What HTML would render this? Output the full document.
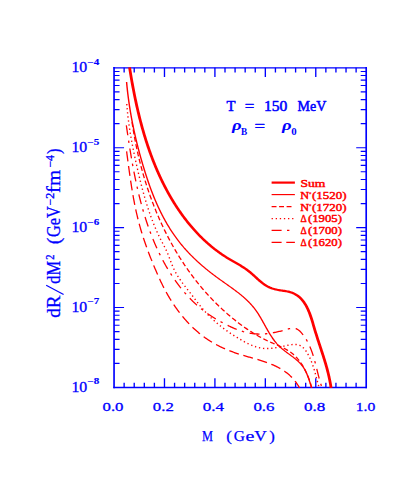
<!DOCTYPE html>
<html><head><meta charset="utf-8"><title>dR/dM2</title>
<style>
html,body{margin:0;padding:0;background:#fff;}
body{width:409px;height:477px;overflow:hidden;font-family:"Liberation Serif",serif;}
svg{display:block;}
</style></head><body>
<svg width="409" height="477" viewBox="0 0 409 477">
<rect width="409" height="477" fill="#ffffff"/>
<defs><clipPath id="pc"><rect x="114.05" y="67.80" width="252.15" height="319.65"/></clipPath></defs>
<g transform="scale(1.0000,1)">
<path d="M114.05,67.80 V387.45 M366.20,67.80 V387.45" fill="none" stroke="#0000ff" stroke-width="1.65" stroke-linecap="square"/>
<path d="M114.05,67.80 H366.20 M114.05,387.45 H366.20" fill="none" stroke="#0000ff" stroke-width="1.35" stroke-linecap="square"/>
<path d="M124.14,387.45 v-4.80 M124.14,67.80 v4.80 M134.22,387.45 v-4.80 M134.22,67.80 v4.80 M144.31,387.45 v-4.80 M144.31,67.80 v4.80 M154.39,387.45 v-4.80 M154.39,67.80 v4.80 M164.48,387.45 v-9.20 M164.48,67.80 v9.20 M174.57,387.45 v-4.80 M174.57,67.80 v4.80 M184.65,387.45 v-4.80 M184.65,67.80 v4.80 M194.74,387.45 v-4.80 M194.74,67.80 v4.80 M204.82,387.45 v-4.80 M204.82,67.80 v4.80 M214.91,387.45 v-9.20 M214.91,67.80 v9.20 M225.00,387.45 v-4.80 M225.00,67.80 v4.80 M235.08,387.45 v-4.80 M235.08,67.80 v4.80 M245.17,387.45 v-4.80 M245.17,67.80 v4.80 M255.25,387.45 v-4.80 M255.25,67.80 v4.80 M265.34,387.45 v-9.20 M265.34,67.80 v9.20 M275.43,387.45 v-4.80 M275.43,67.80 v4.80 M285.51,387.45 v-4.80 M285.51,67.80 v4.80 M295.60,387.45 v-4.80 M295.60,67.80 v4.80 M305.68,387.45 v-4.80 M305.68,67.80 v4.80 M315.77,387.45 v-9.20 M315.77,67.80 v9.20 M325.86,387.45 v-4.80 M325.86,67.80 v4.80 M335.94,387.45 v-4.80 M335.94,67.80 v4.80 M346.03,387.45 v-4.80 M346.03,67.80 v4.80 M356.11,387.45 v-4.80 M356.11,67.80 v4.80" fill="none" stroke="#0000ff" stroke-width="1.35"/>
<path d="M114.05,363.39 h5.50 M366.20,363.39 h-5.50 M114.05,349.32 h5.50 M366.20,349.32 h-5.50 M114.05,339.34 h5.50 M366.20,339.34 h-5.50 M114.05,331.59 h5.50 M366.20,331.59 h-5.50 M114.05,325.27 h5.50 M366.20,325.27 h-5.50 M114.05,319.92 h5.50 M366.20,319.92 h-5.50 M114.05,315.28 h5.50 M366.20,315.28 h-5.50 M114.05,311.19 h5.50 M366.20,311.19 h-5.50 M114.05,307.54 h10.00 M366.20,307.54 h-10.00 M114.05,283.48 h5.50 M366.20,283.48 h-5.50 M114.05,269.41 h5.50 M366.20,269.41 h-5.50 M114.05,259.43 h5.50 M366.20,259.43 h-5.50 M114.05,251.68 h5.50 M366.20,251.68 h-5.50 M114.05,245.35 h5.50 M366.20,245.35 h-5.50 M114.05,240.00 h5.50 M366.20,240.00 h-5.50 M114.05,235.37 h5.50 M366.20,235.37 h-5.50 M114.05,231.28 h5.50 M366.20,231.28 h-5.50 M114.05,227.62 h10.00 M366.20,227.62 h-10.00 M114.05,203.57 h5.50 M366.20,203.57 h-5.50 M114.05,189.50 h5.50 M366.20,189.50 h-5.50 M114.05,179.51 h5.50 M366.20,179.51 h-5.50 M114.05,171.77 h5.50 M366.20,171.77 h-5.50 M114.05,165.44 h5.50 M366.20,165.44 h-5.50 M114.05,160.09 h5.50 M366.20,160.09 h-5.50 M114.05,155.46 h5.50 M366.20,155.46 h-5.50 M114.05,151.37 h5.50 M366.20,151.37 h-5.50 M114.05,147.71 h10.00 M366.20,147.71 h-10.00 M114.05,123.66 h5.50 M366.20,123.66 h-5.50 M114.05,109.58 h5.50 M366.20,109.58 h-5.50 M114.05,99.60 h5.50 M366.20,99.60 h-5.50 M114.05,91.86 h5.50 M366.20,91.86 h-5.50 M114.05,85.53 h5.50 M366.20,85.53 h-5.50 M114.05,80.18 h5.50 M366.20,80.18 h-5.50 M114.05,75.54 h5.50 M366.20,75.54 h-5.50 M114.05,71.46 h5.50 M366.20,71.46 h-5.50" fill="none" stroke="#0000ff" stroke-width="1.15"/>
<path d="M126.61,151.41 L126.71,152.19 L126.82,152.97 L126.92,153.76 L127.03,154.54 L127.13,155.33 L127.24,156.11 L127.34,156.90 L127.44,157.68 L127.55,158.47 L127.65,159.25 L127.76,160.04 L127.86,160.82 L127.97,161.61 L128.07,162.40 L128.18,163.18 L128.28,163.97 L128.39,164.76 L128.49,165.54 L128.60,166.33 L128.71,167.12 L128.81,167.91 L128.92,168.69 L129.03,169.48 L129.14,170.27 L129.25,171.06 L129.36,171.84 L129.47,172.63 L129.58,173.42 L129.69,174.21 L129.80,174.99 L129.91,175.78 L130.03,176.57 L130.14,177.36 L130.25,178.14 L130.37,178.93 L130.49,179.72 L130.60,180.51 L130.72,181.29 L130.84,182.08 L130.96,182.87 L131.08,183.65 L131.20,184.44 L131.32,185.23 L131.45,186.01 L131.57,186.80 L131.69,187.59 L131.82,188.37 L131.95,189.16 L132.08,189.94 L132.21,190.73 L132.34,191.51 L132.47,192.30 L132.60,193.08 L132.74,193.87 L132.87,194.65 L133.01,195.44 L133.15,196.22 L133.29,197.00 L133.43,197.79 L133.58,198.57 L133.72,199.35 L133.87,200.13 L134.01,200.91 L134.16,201.69 L134.31,202.48 L134.46,203.26 L134.62,204.04 L134.77,204.82 L134.93,205.59 L135.09,206.37 L135.25,207.15 L135.41,207.93 L135.58,208.71 L135.74,209.48 L135.91,210.26 L136.08,211.03 L136.25,211.81 L136.42,212.58 L136.60,213.36 L136.78,214.13 L136.96,214.91 L137.14,215.68 L137.32,216.45 L137.51,217.22 L137.69,217.99 L137.88,218.76 L138.07,219.53 L138.27,220.30 L138.46,221.07 L138.66,221.84 L138.86,222.60 L139.07,223.37 L139.27,224.13 L139.48,224.90 L139.69,225.66 L139.90,226.43 L140.12,227.19 L140.33,227.95 L140.55,228.71 L140.78,229.47 L141.00,230.23 L141.23,230.99 L141.45,231.75 L141.68,232.51 L141.92,233.26 L142.15,234.02 L142.39,234.78 L142.63,235.53 L142.87,236.29 L143.11,237.04 L143.36,237.79 L143.60,238.55 L143.85,239.30 L144.10,240.05 L144.36,240.80 L144.61,241.55 L144.87,242.30 L145.13,243.05 L145.39,243.79 L145.65,244.54 L145.91,245.29 L146.18,246.03 L146.45,246.78 L146.71,247.53 L146.99,248.27 L147.26,249.01 L147.53,249.76 L147.81,250.50 L148.08,251.24 L148.36,251.98 L148.64,252.72 L148.93,253.46 L149.21,254.20 L149.49,254.94 L149.78,255.68 L150.07,256.42 L150.36,257.16 L150.65,257.89 L150.94,258.63 L151.23,259.37 L151.53,260.10 L151.83,260.84 L152.12,261.57 L152.42,262.30 L152.72,263.04 L153.02,263.77 L153.32,264.50 L153.63,265.23 L153.93,265.97 L154.24,266.70 L154.54,267.43 L154.85,268.16 L155.16,268.89 L155.47,269.61 L155.78,270.34 L156.09,271.07 L156.41,271.80 L156.72,272.52 L157.04,273.25 L157.36,273.98 L157.67,274.70 L157.99,275.43 L158.32,276.15 L158.64,276.87 L158.97,277.59 L159.29,278.31 L159.62,279.03 L159.96,279.75 L160.29,280.47 L160.63,281.19 L160.97,281.91 L161.31,282.62 L161.65,283.34 L162.00,284.05 L162.35,284.76 L162.70,285.47 L163.06,286.18 L163.42,286.89 L163.78,287.60 L164.14,288.31 L164.51,289.01 L164.88,289.72 L165.26,290.42 L165.63,291.12 L166.01,291.82 L166.40,292.52 L166.79,293.22 L167.18,293.91 L167.57,294.61 L167.97,295.30 L168.37,295.99 L168.77,296.68 L169.18,297.36 L169.59,298.05 L170.01,298.73 L170.42,299.41 L170.84,300.09 L171.27,300.77 L171.69,301.44 L172.12,302.12 L172.56,302.79 L172.99,303.46 L173.44,304.12 L173.88,304.79 L174.33,305.45 L174.78,306.11 L175.23,306.77 L175.69,307.42 L176.15,308.07 L176.61,308.72 L177.08,309.37 L177.55,310.01 L178.02,310.66 L178.50,311.30 L178.98,311.93 L179.46,312.56 L179.95,313.20 L180.44,313.82 L180.93,314.45 L181.43,315.07 L181.93,315.69 L182.43,316.30 L182.94,316.92 L183.45,317.53 L183.96,318.13 L184.48,318.74 L185.00,319.34 L185.53,319.93 L186.05,320.53 L186.58,321.12 L187.12,321.70 L187.66,322.28 L188.20,322.86 L188.74,323.44 L189.29,324.01 L189.84,324.58 L190.39,325.14 L190.95,325.70 L191.51,326.26 L192.08,326.81 L192.65,327.36 L193.22,327.91 L193.79,328.45 L194.37,328.99 L194.95,329.52 L195.54,330.05 L196.13,330.57 L196.72,331.10 L197.32,331.61 L197.92,332.12 L198.52,332.63 L199.13,333.14 L199.74,333.63 L200.35,334.13 L200.97,334.62 L201.59,335.10 L202.21,335.59 L202.84,336.06 L203.47,336.53 L204.10,337.00 L204.74,337.46 L205.38,337.92 L206.02,338.37 L206.67,338.82 L207.32,339.26 L207.98,339.70 L208.64,340.13 L209.30,340.56 L209.97,340.98 L210.63,341.40 L211.31,341.81 L211.98,342.22 L212.66,342.62 L213.35,343.02 L214.03,343.41 L214.72,343.79 L215.41,344.18 L216.11,344.55 L216.81,344.93 L217.51,345.29 L218.21,345.66 L218.92,346.02 L219.63,346.37 L220.34,346.72 L221.05,347.06 L221.77,347.40 L222.49,347.74 L223.21,348.07 L223.94,348.40 L224.67,348.72 L225.40,349.04 L226.13,349.35 L226.86,349.66 L227.60,349.96 L228.34,350.26 L229.08,350.56 L229.82,350.85 L230.57,351.14 L231.31,351.43 L232.06,351.71 L232.81,351.98 L233.56,352.26 L234.31,352.53 L235.07,352.79 L235.83,353.05 L236.58,353.31 L237.34,353.56 L238.10,353.81 L238.87,354.06 L239.63,354.30 L240.39,354.54 L241.16,354.78 L241.92,355.01 L242.69,355.24 L243.46,355.47 L244.23,355.70 L245.00,355.92 L245.77,356.15 L246.54,356.37 L247.31,356.59 L248.08,356.81 L248.85,357.03 L249.62,357.24 L250.39,357.46 L251.16,357.68 L251.93,357.89 L252.70,358.11 L253.47,358.33 L254.23,358.55 L255.00,358.77 L255.77,358.99 L256.53,359.21 L257.30,359.43 L258.06,359.66 L258.83,359.89 L259.59,360.12 L260.35,360.35 L261.11,360.59 L261.86,360.82 L262.62,361.07 L263.37,361.31 L264.12,361.56 L264.87,361.81 L265.62,362.07 L266.37,362.33 L267.11,362.60 L267.85,362.87 L268.59,363.14 L269.32,363.42 L270.06,363.71 L270.79,364.00 L271.51,364.30 L272.24,364.60 L272.95,364.91 L273.67,365.22 L274.38,365.54 L275.09,365.87 L275.80,366.20 L276.50,366.55 L277.19,366.89 L277.88,367.25 L278.57,367.61 L279.25,367.98 L279.93,368.36 L280.60,368.75 L281.27,369.14 L281.93,369.55 L282.59,369.96 L283.24,370.38 L283.89,370.81 L284.53,371.25 L285.16,371.69 L285.79,372.15 L286.41,372.62 L287.03,373.10 L287.64,373.58 L288.24,374.08 L288.84,374.59 L289.43,375.11 L290.01,375.64 L290.58,376.18 L291.15,376.73 L291.71,377.29 L292.26,377.87 L292.81,378.45 L293.35,379.05 L293.88,379.66 L294.40,380.28 L294.91,380.92 L295.42,381.56 L295.91,382.22 L296.40,382.89 L296.88,383.58 L297.35,384.28 L297.81,384.99 L298.26,385.71 L298.70,386.45 L299.13,387.20 L299.56,387.97" fill="none" stroke="#ff0000" stroke-width="1.30" stroke-dasharray="10 4.7"/>
<path d="M126.32,125.35 L126.46,126.25 L126.59,127.15 L126.72,128.05 L126.85,128.96 L126.99,129.86 L127.12,130.76 L127.25,131.67 L127.39,132.57 L127.52,133.48 L127.66,134.38 L127.80,135.29 L127.93,136.20 L128.07,137.10 L128.21,138.01 L128.35,138.92 L128.49,139.83 L128.63,140.74 L128.77,141.65 L128.91,142.56 L129.05,143.47 L129.19,144.39 L129.34,145.30 L129.48,146.21 L129.63,147.13 L129.77,148.04 L129.92,148.95 L130.07,149.87 L130.22,150.78 L130.37,151.70 L130.52,152.61 L130.67,153.53 L130.83,154.45 L130.98,155.36 L131.14,156.28 L131.29,157.20 L131.45,158.11 L131.61,159.03 L131.77,159.95 L131.93,160.86 L132.09,161.78 L132.25,162.70 L132.42,163.62 L132.58,164.53 L132.75,165.45 L132.92,166.37 L133.09,167.29 L133.26,168.21 L133.43,169.12 L133.61,170.04 L133.78,170.96 L133.96,171.88 L134.14,172.79 L134.32,173.71 L134.50,174.63 L134.68,175.55 L134.87,176.46 L135.05,177.38 L135.24,178.30 L135.43,179.21 L135.62,180.13 L135.81,181.04 L136.01,181.96 L136.20,182.87 L136.40,183.79 L136.60,184.70 L136.80,185.62 L137.00,186.53 L137.21,187.45 L137.42,188.36 L137.62,189.27 L137.83,190.18 L138.05,191.10 L138.26,192.01 L138.48,192.92 L138.69,193.83 L138.92,194.74 L139.14,195.65 L139.36,196.55 L139.59,197.46 L139.82,198.37 L140.05,199.28 L140.28,200.18 L140.51,201.09 L140.75,201.99 L140.99,202.90 L141.23,203.80 L141.47,204.70 L141.72,205.60 L141.97,206.51 L142.22,207.41 L142.47,208.30 L142.73,209.20 L142.98,210.10 L143.24,211.00 L143.51,211.89 L143.77,212.79 L144.04,213.68 L144.31,214.58 L144.58,215.47 L144.85,216.36 L145.13,217.25 L145.41,218.14 L145.69,219.03 L145.98,219.91 L146.27,220.80 L146.56,221.69 L146.85,222.57 L147.14,223.45 L147.44,224.33 L147.74,225.22 L148.05,226.09 L148.35,226.97 L148.66,227.85 L148.98,228.73 L149.29,229.60 L149.61,230.47 L149.93,231.34 L150.25,232.22 L150.58,233.08 L150.91,233.95 L151.24,234.82 L151.58,235.68 L151.92,236.55 L152.26,237.41 L152.60,238.27 L152.95,239.13 L153.30,239.99 L153.66,240.85 L154.01,241.70 L154.38,242.55 L154.74,243.41 L155.11,244.26 L155.48,245.11 L155.85,245.95 L156.23,246.80 L156.61,247.64 L156.99,248.48 L157.38,249.33 L157.77,250.16 L158.16,251.00 L158.56,251.84 L158.96,252.67 L159.36,253.50 L159.77,254.33 L160.18,255.16 L160.60,255.99 L161.01,256.81 L161.44,257.64 L161.86,258.46 L162.29,259.28 L162.72,260.09 L163.16,260.91 L163.60,261.72 L164.04,262.53 L164.49,263.34 L164.94,264.15 L165.40,264.96 L165.85,265.76 L166.32,266.56 L166.78,267.36 L167.25,268.16 L167.73,268.95 L168.21,269.75 L168.69,270.54 L169.17,271.33 L169.66,272.11 L170.16,272.90 L170.66,273.68 L171.16,274.46 L171.66,275.24 L172.17,276.01 L172.69,276.79 L173.21,277.56 L173.73,278.33 L174.26,279.09 L174.79,279.85 L175.32,280.62 L175.86,281.37 L176.40,282.13 L176.95,282.88 L177.50,283.63 L178.06,284.38 L178.62,285.12 L179.19,285.86 L179.75,286.60 L180.33,287.33 L180.90,288.06 L181.49,288.79 L182.07,289.51 L182.66,290.23 L183.26,290.95 L183.86,291.66 L184.46,292.37 L185.07,293.07 L185.68,293.77 L186.30,294.47 L186.92,295.16 L187.55,295.85 L188.18,296.54 L188.81,297.22 L189.45,297.89 L190.09,298.56 L190.74,299.23 L191.40,299.89 L192.05,300.55 L192.72,301.20 L193.38,301.85 L194.05,302.49 L194.73,303.13 L195.41,303.76 L196.09,304.38 L196.78,305.01 L197.48,305.62 L198.18,306.23 L198.88,306.84 L199.59,307.44 L200.30,308.03 L201.02,308.62 L201.74,309.21 L202.47,309.78 L203.20,310.36 L203.94,310.92 L204.68,311.48 L205.42,312.04 L206.17,312.58 L206.93,313.13 L207.69,313.67 L208.45,314.20 L209.22,314.72 L209.99,315.24 L210.76,315.76 L211.54,316.27 L212.32,316.78 L213.11,317.28 L213.90,317.77 L214.69,318.26 L215.49,318.75 L216.29,319.22 L217.09,319.70 L217.90,320.17 L218.71,320.63 L219.53,321.09 L220.34,321.55 L221.16,322.00 L221.98,322.44 L222.81,322.88 L223.64,323.32 L224.47,323.75 L225.30,324.18 L226.14,324.60 L226.98,325.02 L227.82,325.43 L228.66,325.84 L229.51,326.24 L230.36,326.64 L231.21,327.04 L232.06,327.42 L232.92,327.80 L233.77,328.18 L234.63,328.54 L235.50,328.90 L236.36,329.25 L237.23,329.59 L238.10,329.93 L238.97,330.25 L239.84,330.56 L240.71,330.86 L241.59,331.15 L242.47,331.43 L243.35,331.70 L244.24,331.95 L245.12,332.19 L246.01,332.42 L246.90,332.63 L247.80,332.83 L248.69,333.01 L249.59,333.18 L250.49,333.33 L251.39,333.47 L252.29,333.59 L253.20,333.70 L254.10,333.79 L255.01,333.87 L255.92,333.93 L256.83,333.98 L257.75,334.01 L258.66,334.03 L259.58,334.04 L260.50,334.03 L261.42,334.01 L262.34,333.98 L263.26,333.94 L264.19,333.88 L265.11,333.81 L266.04,333.73 L266.96,333.64 L267.89,333.53 L268.82,333.42 L269.75,333.29 L270.68,333.15 L271.61,333.01 L272.54,332.85 L273.48,332.68 L274.41,332.51 L275.34,332.32 L276.28,332.12 L277.21,331.92 L278.15,331.71 L279.08,331.49 L280.02,331.26 L280.95,331.02 L281.89,330.77 L282.83,330.52 L283.76,330.26 L284.70,329.99 L285.63,329.72 L286.57,329.44 L287.50,329.17 L288.42,328.92 L289.34,328.68 L290.25,328.49 L291.15,328.33 L292.03,328.22 L292.90,328.17 L293.75,328.18 L294.58,328.27 L295.38,328.45 L296.17,328.71 L296.93,329.06 L297.67,329.47 L298.39,329.95 L299.09,330.49 L299.76,331.08 L300.42,331.71 L301.06,332.38 L301.68,333.08 L302.28,333.80 L302.86,334.53 L303.43,335.28 L303.98,336.03 L304.52,336.79 L305.04,337.56 L305.55,338.34 L306.04,339.13 L306.51,339.93 L306.97,340.73 L307.42,341.54 L307.86,342.36 L308.28,343.18 L308.69,344.01 L309.09,344.85 L309.47,345.70 L309.85,346.55 L310.21,347.40 L310.57,348.26 L310.91,349.13 L311.25,350.00 L311.57,350.88 L311.89,351.76 L312.20,352.64 L312.50,353.53 L312.79,354.42 L313.08,355.31 L313.36,356.21 L313.63,357.11 L313.90,358.01 L314.16,358.92 L314.42,359.83 L314.67,360.73 L314.91,361.64 L315.16,362.56 L315.40,363.47 L315.63,364.38 L315.87,365.30 L316.10,366.21 L316.33,367.12 L316.55,368.04 L316.78,368.95 L317.00,369.86 L317.23,370.77 L317.45,371.68 L317.68,372.59 L317.91,373.50 L318.13,374.40 L318.36,375.30 L318.59,376.20 L318.83,377.10 L319.06,377.99 L319.30,378.88 L319.54,379.76 L319.79,380.65 L320.04,381.52 L320.30,382.40 L320.56,383.27 L320.83,384.13 L321.10,384.99 L321.38,385.84 L321.66,386.69 L321.96,387.53" fill="none" stroke="#ff0000" stroke-width="1.30" stroke-dasharray="10 5.4 2.4 5.6"/>
<path d="M126.79,104.05 L126.86,105.01 L126.93,105.97 L127.01,106.93 L127.09,107.89 L127.17,108.84 L127.26,109.80 L127.35,110.75 L127.44,111.71 L127.54,112.66 L127.64,113.61 L127.74,114.56 L127.85,115.51 L127.95,116.46 L128.06,117.41 L128.18,118.36 L128.29,119.31 L128.41,120.26 L128.53,121.20 L128.66,122.15 L128.78,123.10 L128.91,124.04 L129.04,124.98 L129.18,125.93 L129.31,126.87 L129.45,127.81 L129.59,128.75 L129.74,129.69 L129.88,130.63 L130.03,131.57 L130.18,132.51 L130.33,133.45 L130.49,134.39 L130.65,135.33 L130.81,136.27 L130.97,137.20 L131.13,138.14 L131.30,139.08 L131.46,140.01 L131.63,140.95 L131.80,141.88 L131.98,142.82 L132.15,143.75 L132.33,144.69 L132.51,145.62 L132.69,146.55 L132.87,147.49 L133.05,148.42 L133.24,149.35 L133.43,150.28 L133.61,151.22 L133.80,152.15 L134.00,153.08 L134.19,154.01 L134.38,154.94 L134.58,155.88 L134.78,156.81 L134.98,157.74 L135.18,158.67 L135.38,159.60 L135.58,160.53 L135.78,161.46 L135.99,162.39 L136.19,163.32 L136.40,164.25 L136.61,165.18 L136.82,166.11 L137.03,167.04 L137.24,167.98 L137.45,168.91 L137.67,169.84 L137.88,170.77 L138.10,171.70 L138.31,172.63 L138.53,173.56 L138.75,174.49 L138.97,175.42 L139.19,176.35 L139.41,177.28 L139.64,178.21 L139.86,179.14 L140.09,180.07 L140.32,181.00 L140.55,181.93 L140.78,182.85 L141.01,183.78 L141.25,184.71 L141.49,185.64 L141.72,186.56 L141.97,187.49 L142.21,188.41 L142.45,189.34 L142.70,190.26 L142.95,191.19 L143.20,192.11 L143.45,193.03 L143.71,193.95 L143.96,194.87 L144.22,195.80 L144.48,196.71 L144.75,197.63 L145.01,198.55 L145.28,199.47 L145.55,200.38 L145.83,201.30 L146.10,202.21 L146.38,203.13 L146.67,204.04 L146.95,204.95 L147.24,205.86 L147.53,206.77 L147.82,207.68 L148.12,208.59 L148.41,209.49 L148.72,210.40 L149.02,211.30 L149.33,212.20 L149.64,213.10 L149.95,214.00 L150.27,214.90 L150.59,215.80 L150.91,216.69 L151.24,217.59 L151.57,218.48 L151.91,219.37 L152.24,220.26 L152.59,221.15 L152.93,222.04 L153.28,222.92 L153.63,223.81 L153.99,224.69 L154.34,225.57 L154.71,226.45 L155.08,227.32 L155.45,228.20 L155.82,229.07 L156.20,229.95 L156.58,230.82 L156.97,231.68 L157.36,232.55 L157.76,233.41 L158.15,234.28 L158.56,235.14 L158.97,236.00 L159.38,236.85 L159.80,237.71 L160.22,238.56 L160.64,239.41 L161.07,240.26 L161.51,241.11 L161.95,241.95 L162.39,242.79 L162.84,243.63 L163.28,244.47 L163.73,245.31 L164.18,246.16 L164.62,247.00 L165.05,247.85 L165.48,248.70 L165.90,249.55 L166.30,250.41 L166.70,251.28 L167.08,252.15 L167.46,253.02 L167.82,253.90 L168.18,254.78 L168.53,255.67 L168.88,256.56 L169.22,257.45 L169.56,258.34 L169.90,259.23 L170.23,260.12 L170.57,261.01 L170.91,261.90 L171.25,262.78 L171.60,263.67 L171.95,264.55 L172.31,265.43 L172.67,266.30 L173.05,267.17 L173.43,268.03 L173.82,268.89 L174.23,269.74 L174.65,270.58 L175.08,271.42 L175.52,272.25 L175.98,273.07 L176.45,273.89 L176.93,274.70 L177.41,275.51 L177.91,276.31 L178.42,277.10 L178.93,277.90 L179.46,278.68 L179.99,279.47 L180.53,280.24 L181.08,281.02 L181.63,281.79 L182.19,282.56 L182.75,283.33 L183.32,284.09 L183.90,284.85 L184.48,285.61 L185.06,286.37 L185.65,287.13 L186.23,287.89 L186.82,288.64 L187.42,289.40 L188.01,290.15 L188.60,290.91 L189.20,291.66 L189.79,292.42 L190.39,293.17 L190.98,293.93 L191.57,294.69 L192.16,295.45 L192.75,296.22 L193.33,296.98 L193.92,297.74 L194.50,298.51 L195.08,299.27 L195.67,300.04 L196.25,300.80 L196.84,301.57 L197.42,302.33 L198.01,303.08 L198.60,303.84 L199.19,304.59 L199.79,305.34 L200.38,306.09 L200.98,306.83 L201.59,307.57 L202.20,308.30 L202.81,309.03 L203.43,309.75 L204.06,310.47 L204.69,311.18 L205.32,311.88 L205.96,312.58 L206.60,313.28 L207.25,313.97 L207.91,314.65 L208.57,315.32 L209.23,316.00 L209.90,316.66 L210.58,317.32 L211.25,317.98 L211.94,318.63 L212.63,319.28 L213.32,319.92 L214.02,320.55 L214.72,321.18 L215.42,321.81 L216.14,322.43 L216.85,323.04 L217.57,323.65 L218.30,324.26 L219.02,324.86 L219.76,325.45 L220.50,326.05 L221.24,326.63 L221.99,327.21 L222.74,327.79 L223.49,328.36 L224.25,328.93 L225.01,329.50 L225.78,330.06 L226.55,330.61 L227.33,331.16 L228.11,331.71 L228.89,332.25 L229.68,332.79 L230.47,333.33 L231.27,333.86 L232.07,334.38 L232.87,334.90 L233.68,335.42 L234.49,335.94 L235.31,336.45 L236.13,336.95 L236.95,337.46 L237.77,337.96 L238.60,338.45 L239.44,338.94 L240.28,339.43 L241.12,339.92 L241.96,340.40 L242.81,340.87 L243.66,341.34 L244.51,341.81 L245.37,342.27 L246.23,342.72 L247.10,343.16 L247.97,343.59 L248.84,344.00 L249.71,344.41 L250.59,344.80 L251.47,345.18 L252.36,345.55 L253.25,345.90 L254.14,346.23 L255.03,346.54 L255.93,346.83 L256.83,347.11 L257.73,347.36 L258.64,347.59 L259.55,347.80 L260.46,347.98 L261.38,348.14 L262.30,348.28 L263.22,348.38 L264.14,348.46 L265.07,348.52 L266.00,348.55 L266.93,348.56 L267.87,348.55 L268.81,348.52 L269.75,348.46 L270.69,348.39 L271.63,348.30 L272.58,348.20 L273.53,348.08 L274.48,347.95 L275.43,347.80 L276.38,347.65 L277.34,347.48 L278.30,347.30 L279.26,347.12 L280.22,346.93 L281.18,346.73 L282.14,346.53 L283.11,346.32 L284.08,346.11 L285.04,345.90 L286.01,345.69 L286.98,345.48 L287.94,345.28 L288.91,345.09 L289.86,344.92 L290.81,344.77 L291.76,344.65 L292.69,344.55 L293.61,344.49 L294.52,344.46 L295.41,344.48 L296.29,344.54 L297.15,344.65 L298.00,344.82 L298.82,345.04 L299.62,345.33 L300.39,345.68 L301.14,346.11 L301.87,346.60 L302.57,347.16 L303.25,347.77 L303.90,348.43 L304.53,349.13 L305.14,349.88 L305.73,350.67 L306.30,351.48 L306.85,352.33 L307.37,353.19 L307.88,354.07 L308.36,354.96 L308.83,355.85 L309.28,356.75 L309.72,357.65 L310.13,358.55 L310.53,359.45 L310.92,360.35 L311.29,361.25 L311.65,362.15 L311.99,363.05 L312.32,363.96 L312.64,364.86 L312.95,365.77 L313.26,366.68 L313.55,367.58 L313.83,368.49 L314.11,369.40 L314.37,370.31 L314.64,371.22 L314.90,372.13 L315.15,373.04 L315.40,373.95 L315.64,374.86 L315.89,375.78 L316.13,376.69 L316.37,377.60 L316.61,378.52 L316.85,379.43 L317.10,380.34 L317.34,381.26 L317.59,382.17 L317.84,383.08 L318.10,384.00 L318.36,384.91 L318.63,385.83 L318.90,386.74 L319.19,387.66" fill="none" stroke="#ff0000" stroke-width="1.40" stroke-dasharray="1.3 2.8"/>
<path d="M132.04,122.07 L132.16,122.90 L132.28,123.72 L132.40,124.54 L132.53,125.36 L132.66,126.18 L132.78,127.00 L132.91,127.82 L133.04,128.64 L133.18,129.46 L133.31,130.29 L133.45,131.11 L133.59,131.93 L133.73,132.75 L133.87,133.57 L134.01,134.39 L134.16,135.22 L134.30,136.04 L134.45,136.86 L134.60,137.68 L134.76,138.50 L134.91,139.32 L135.07,140.14 L135.22,140.97 L135.38,141.79 L135.55,142.61 L135.71,143.43 L135.87,144.25 L136.04,145.07 L136.21,145.89 L136.38,146.71 L136.55,147.53 L136.73,148.35 L136.90,149.17 L137.08,149.99 L137.26,150.81 L137.44,151.63 L137.62,152.45 L137.81,153.27 L138.00,154.09 L138.18,154.91 L138.38,155.73 L138.57,156.54 L138.76,157.36 L138.96,158.18 L139.16,159.00 L139.35,159.81 L139.56,160.63 L139.76,161.45 L139.96,162.26 L140.17,163.08 L140.38,163.90 L140.59,164.71 L140.80,165.53 L141.02,166.34 L141.23,167.15 L141.45,167.97 L141.67,168.78 L141.89,169.60 L142.12,170.41 L142.34,171.22 L142.57,172.03 L142.80,172.84 L143.03,173.65 L143.26,174.47 L143.50,175.28 L143.73,176.09 L143.97,176.89 L144.21,177.70 L144.45,178.51 L144.70,179.32 L144.94,180.13 L145.19,180.93 L145.44,181.74 L145.69,182.55 L145.95,183.35 L146.20,184.16 L146.46,184.96 L146.72,185.76 L146.98,186.57 L147.24,187.37 L147.51,188.17 L147.77,188.97 L148.04,189.77 L148.31,190.57 L148.58,191.37 L148.86,192.17 L149.13,192.97 L149.41,193.77 L149.69,194.56 L149.97,195.36 L150.26,196.16 L150.54,196.95 L150.83,197.75 L151.12,198.54 L151.41,199.33 L151.71,200.12 L152.00,200.91 L152.30,201.71 L152.60,202.50 L152.90,203.28 L153.20,204.07 L153.51,204.86 L153.81,205.65 L154.12,206.43 L154.43,207.22 L154.74,208.00 L155.06,208.79 L155.38,209.57 L155.69,210.35 L156.01,211.13 L156.34,211.91 L156.66,212.69 L156.99,213.47 L157.32,214.25 L157.65,215.02 L157.98,215.80 L158.31,216.57 L158.65,217.35 L158.99,218.12 L159.33,218.89 L159.67,219.66 L160.01,220.43 L160.36,221.20 L160.71,221.97 L161.05,222.74 L161.41,223.51 L161.76,224.27 L162.12,225.04 L162.47,225.80 L162.83,226.56 L163.19,227.32 L163.56,228.08 L163.92,228.84 L164.29,229.60 L164.66,230.36 L165.03,231.11 L165.41,231.87 L165.78,232.62 L166.16,233.37 L166.54,234.13 L166.92,234.88 L167.30,235.62 L167.69,236.37 L168.08,237.12 L168.47,237.87 L168.86,238.61 L169.25,239.35 L169.65,240.10 L170.04,240.84 L170.44,241.58 L170.85,242.32 L171.25,243.05 L171.65,243.79 L172.06,244.53 L172.47,245.26 L172.88,245.99 L173.30,246.72 L173.71,247.45 L174.13,248.18 L174.55,248.91 L174.97,249.64 L175.40,250.36 L175.82,251.08 L176.25,251.81 L176.68,252.53 L177.11,253.25 L177.55,253.96 L177.98,254.68 L178.42,255.40 L178.86,256.11 L179.30,256.82 L179.75,257.53 L180.19,258.24 L180.64,258.95 L181.09,259.66 L181.55,260.37 L182.00,261.07 L182.46,261.77 L182.92,262.47 L183.38,263.17 L183.84,263.87 L184.30,264.57 L184.77,265.26 L185.24,265.96 L185.71,266.65 L186.18,267.34 L186.66,268.03 L187.14,268.72 L187.62,269.40 L188.10,270.09 L188.58,270.77 L189.07,271.45 L189.56,272.13 L190.05,272.81 L190.54,273.49 L191.03,274.16 L191.53,274.84 L192.03,275.51 L192.53,276.18 L193.03,276.85 L193.53,277.52 L194.04,278.18 L194.55,278.84 L195.06,279.51 L195.57,280.17 L196.09,280.83 L196.61,281.48 L197.13,282.14 L197.65,282.79 L198.17,283.44 L198.70,284.09 L199.22,284.74 L199.75,285.39 L200.29,286.03 L200.82,286.67 L201.36,287.32 L201.90,287.96 L202.44,288.59 L202.98,289.23 L203.52,289.86 L204.07,290.49 L204.62,291.12 L205.17,291.75 L205.73,292.38 L206.28,293.00 L206.84,293.63 L207.40,294.25 L207.96,294.87 L208.53,295.48 L209.09,296.10 L209.66,296.71 L210.23,297.32 L210.80,297.93 L211.38,298.54 L211.96,299.15 L212.54,299.75 L213.12,300.35 L213.70,300.95 L214.29,301.55 L214.88,302.14 L215.47,302.74 L216.06,303.33 L216.65,303.92 L217.25,304.51 L217.85,305.09 L218.45,305.67 L219.05,306.26 L219.66,306.83 L220.27,307.41 L220.88,307.99 L221.49,308.56 L222.10,309.13 L222.72,309.70 L223.34,310.27 L223.96,310.83 L224.58,311.39 L225.21,311.95 L225.83,312.51 L226.46,313.07 L227.10,313.62 L227.73,314.17 L228.37,314.72 L229.01,315.27 L229.65,315.81 L230.29,316.36 L230.93,316.90 L231.58,317.43 L232.23,317.97 L232.88,318.50 L233.54,319.04 L234.19,319.56 L234.85,320.09 L235.51,320.62 L236.18,321.14 L236.84,321.66 L237.51,322.17 L238.18,322.68 L238.85,323.20 L239.52,323.70 L240.20,324.21 L240.88,324.71 L241.56,325.21 L242.24,325.71 L242.93,326.20 L243.62,326.69 L244.31,327.18 L245.00,327.66 L245.69,328.14 L246.39,328.62 L247.09,329.09 L247.79,329.57 L248.49,330.03 L249.20,330.50 L249.91,330.96 L250.62,331.42 L251.33,331.87 L252.04,332.32 L252.76,332.77 L253.48,333.21 L254.20,333.65 L254.92,334.08 L255.65,334.51 L256.38,334.94 L257.11,335.36 L257.84,335.78 L258.58,336.20 L259.31,336.61 L260.05,337.02 L260.80,337.42 L261.54,337.82 L262.29,338.21 L263.04,338.60 L263.79,338.99 L264.54,339.37 L265.30,339.75 L266.05,340.12 L266.81,340.49 L267.58,340.85 L268.34,341.21 L269.11,341.56 L269.88,341.91 L270.65,342.26 L271.42,342.60 L272.19,342.94 L272.97,343.27 L273.74,343.61 L274.52,343.94 L275.29,344.28 L276.07,344.61 L276.84,344.94 L277.61,345.28 L278.37,345.62 L279.14,345.96 L279.90,346.30 L280.66,346.65 L281.42,347.01 L282.17,347.36 L282.91,347.73 L283.65,348.10 L284.39,348.48 L285.12,348.86 L285.84,349.26 L286.56,349.66 L287.26,350.07 L287.97,350.50 L288.66,350.93 L289.35,351.38 L290.02,351.84 L290.69,352.31 L291.35,352.79 L291.99,353.29 L292.63,353.81 L293.26,354.34 L293.87,354.88 L294.48,355.44 L295.07,356.01 L295.66,356.59 L296.23,357.19 L296.80,357.79 L297.35,358.41 L297.90,359.05 L298.43,359.69 L298.96,360.34 L299.47,361.01 L299.98,361.68 L300.47,362.36 L300.96,363.06 L301.43,363.76 L301.90,364.47 L302.36,365.19 L302.80,365.91 L303.24,366.64 L303.67,367.38 L304.09,368.13 L304.50,368.88 L304.90,369.64 L305.29,370.40 L305.68,371.17 L306.05,371.95 L306.41,372.72 L306.77,373.50 L307.12,374.29 L307.45,375.08 L307.78,375.87 L308.10,376.66 L308.42,377.45 L308.72,378.25 L309.01,379.04 L309.30,379.84 L309.58,380.64 L309.85,381.44 L310.11,382.23 L310.36,383.03 L310.61,383.82 L310.85,384.62 L311.07,385.41 L311.30,386.20 L311.51,386.98 L311.71,387.76" fill="none" stroke="#ff0000" stroke-width="1.30" stroke-dasharray="4.9 2.6"/>
<g transform="scale(1.280,1)"><path d="M98.90,82.05 L98.96,82.98 L99.03,83.91 L99.10,84.84 L99.17,85.77 L99.24,86.70 L99.32,87.63 L99.40,88.56 L99.47,89.49 L99.55,90.41 L99.63,91.34 L99.72,92.27 L99.80,93.19 L99.89,94.12 L99.98,95.04 L100.07,95.97 L100.16,96.89 L100.25,97.82 L100.35,98.74 L100.45,99.66 L100.55,100.58 L100.65,101.51 L100.75,102.43 L100.85,103.35 L100.96,104.27 L101.06,105.19 L101.17,106.11 L101.28,107.02 L101.40,107.94 L101.51,108.86 L101.63,109.78 L101.74,110.69 L101.86,111.61 L101.98,112.53 L102.11,113.44 L102.23,114.36 L102.35,115.27 L102.48,116.19 L102.61,117.10 L102.74,118.01 L102.87,118.93 L103.01,119.84 L103.14,120.75 L103.28,121.66 L103.42,122.57 L103.56,123.48 L103.70,124.39 L103.84,125.30 L103.99,126.21 L104.13,127.12 L104.28,128.03 L104.43,128.93 L104.58,129.84 L104.73,130.75 L104.89,131.66 L105.04,132.56 L105.20,133.47 L105.36,134.37 L105.52,135.28 L105.68,136.18 L105.84,137.09 L106.01,137.99 L106.17,138.89 L106.34,139.79 L106.51,140.70 L106.68,141.60 L106.85,142.50 L107.02,143.40 L107.20,144.30 L107.37,145.20 L107.55,146.10 L107.73,147.00 L107.91,147.90 L108.09,148.80 L108.28,149.70 L108.46,150.59 L108.65,151.49 L108.83,152.39 L109.02,153.28 L109.21,154.18 L109.41,155.08 L109.60,155.97 L109.79,156.87 L109.99,157.76 L110.19,158.66 L110.39,159.55 L110.59,160.44 L110.79,161.34 L110.99,162.23 L111.19,163.12 L111.40,164.01 L111.61,164.90 L111.81,165.80 L112.02,166.69 L112.23,167.58 L112.45,168.47 L112.66,169.36 L112.87,170.25 L113.09,171.14 L113.31,172.02 L113.53,172.91 L113.75,173.80 L113.97,174.69 L114.19,175.57 L114.42,176.46 L114.64,177.34 L114.87,178.23 L115.10,179.11 L115.33,180.00 L115.57,180.88 L115.80,181.76 L116.04,182.64 L116.28,183.52 L116.52,184.40 L116.76,185.28 L117.01,186.16 L117.25,187.04 L117.50,187.91 L117.75,188.79 L118.01,189.66 L118.26,190.53 L118.52,191.40 L118.78,192.27 L119.04,193.14 L119.30,194.01 L119.57,194.88 L119.84,195.74 L120.11,196.61 L120.39,197.47 L120.66,198.33 L120.94,199.19 L121.22,200.05 L121.51,200.91 L121.80,201.77 L122.09,202.62 L122.38,203.47 L122.67,204.33 L122.97,205.17 L123.27,206.02 L123.57,206.87 L123.88,207.71 L124.19,208.56 L124.50,209.40 L124.82,210.24 L125.13,211.07 L125.45,211.91 L125.78,212.74 L126.10,213.57 L126.43,214.40 L126.76,215.23 L127.10,216.05 L127.44,216.88 L127.78,217.70 L128.12,218.51 L128.47,219.33 L128.82,220.14 L129.17,220.95 L129.53,221.76 L129.89,222.57 L130.25,223.37 L130.61,224.17 L130.98,224.97 L131.36,225.76 L131.73,226.56 L132.11,227.34 L132.49,228.13 L132.88,228.92 L133.26,229.70 L133.65,230.48 L134.05,231.25 L134.45,232.02 L134.85,232.79 L135.25,233.56 L135.66,234.32 L136.07,235.08 L136.49,235.84 L136.91,236.59 L137.33,237.34 L137.76,238.09 L138.18,238.83 L138.62,239.57 L139.05,240.31 L139.49,241.04 L139.94,241.77 L140.38,242.50 L140.83,243.22 L141.29,243.94 L141.75,244.65 L142.21,245.36 L142.67,246.07 L143.14,246.77 L143.61,247.48 L144.09,248.17 L144.57,248.87 L145.05,249.56 L145.53,250.24 L146.02,250.93 L146.51,251.61 L147.01,252.28 L147.50,252.96 L148.00,253.63 L148.51,254.29 L149.01,254.96 L149.52,255.62 L150.04,256.27 L150.55,256.93 L151.07,257.58 L151.59,258.23 L152.11,258.87 L152.64,259.51 L153.17,260.15 L153.70,260.78 L154.23,261.42 L154.77,262.04 L155.31,262.67 L155.85,263.29 L156.39,263.91 L156.94,264.53 L157.49,265.14 L158.04,265.75 L158.59,266.36 L159.15,266.96 L159.71,267.57 L160.27,268.16 L160.83,268.76 L161.39,269.35 L161.96,269.94 L162.53,270.53 L163.10,271.12 L163.67,271.70 L164.24,272.28 L164.82,272.85 L165.40,273.43 L165.98,274.00 L166.56,274.57 L167.14,275.13 L167.73,275.70 L168.31,276.26 L168.90,276.82 L169.49,277.37 L170.08,277.92 L170.67,278.48 L171.27,279.02 L171.86,279.57 L172.46,280.11 L173.05,280.66 L173.65,281.20 L174.25,281.74 L174.84,282.28 L175.44,282.82 L176.04,283.36 L176.64,283.90 L177.23,284.44 L177.83,284.97 L178.42,285.51 L179.02,286.05 L179.61,286.59 L180.20,287.14 L180.79,287.68 L181.38,288.22 L181.97,288.77 L182.55,289.32 L183.14,289.87 L183.72,290.42 L184.30,290.98 L184.87,291.54 L185.45,292.10 L186.02,292.66 L186.58,293.23 L187.15,293.81 L187.71,294.38 L188.26,294.96 L188.82,295.55 L189.37,296.14 L189.91,296.73 L190.45,297.33 L190.99,297.94 L191.52,298.55 L192.04,299.17 L192.57,299.79 L193.08,300.42 L193.59,301.05 L194.10,301.70 L194.60,302.34 L195.09,303.00 L195.58,303.66 L196.07,304.34 L196.54,305.01 L197.01,305.70 L197.47,306.40 L197.93,307.10 L198.38,307.81 L198.82,308.53 L199.26,309.26 L199.68,310.00 L200.10,310.75 L200.52,311.51 L200.92,312.27 L201.33,313.04 L201.72,313.82 L202.11,314.61 L202.50,315.40 L202.88,316.20 L203.25,317.00 L203.63,317.81 L204.00,318.62 L204.36,319.44 L204.73,320.26 L205.09,321.08 L205.45,321.91 L205.81,322.73 L206.17,323.56 L206.53,324.39 L206.88,325.22 L207.24,326.05 L207.60,326.87 L207.96,327.70 L208.32,328.53 L208.68,329.35 L209.05,330.17 L209.42,330.99 L209.79,331.80 L210.16,332.61 L210.54,333.42 L210.92,334.22 L211.31,335.01 L211.70,335.80 L212.10,336.59 L212.51,337.36 L212.92,338.13 L213.33,338.89 L213.75,339.65 L214.19,340.39 L214.62,341.13 L215.07,341.85 L215.53,342.56 L215.99,343.27 L216.46,343.96 L216.95,344.64 L217.44,345.31 L217.94,345.97 L218.46,346.61 L218.98,347.24 L219.52,347.86 L220.06,348.47 L220.62,349.06 L221.18,349.65 L221.74,350.23 L222.32,350.81 L222.89,351.37 L223.48,351.93 L224.06,352.49 L224.65,353.04 L225.23,353.60 L225.82,354.15 L226.41,354.69 L227.00,355.24 L227.59,355.80 L228.17,356.35 L228.75,356.91 L229.32,357.47 L229.89,358.04 L230.46,358.61 L231.01,359.19 L231.56,359.78 L232.10,360.38 L232.63,360.98 L233.15,361.60 L233.66,362.23 L234.16,362.88 L234.64,363.54 L235.11,364.21 L235.57,364.90 L236.01,365.61 L236.43,366.33 L236.84,367.07 L237.23,367.83 L237.61,368.60 L237.97,369.39 L238.32,370.19 L238.65,371.01 L238.98,371.84 L239.29,372.68 L239.59,373.53 L239.88,374.39 L240.16,375.26 L240.43,376.14 L240.70,377.02 L240.95,377.91 L241.20,378.81 L241.44,379.71 L241.68,380.61 L241.91,381.52 L242.13,382.43 L242.35,383.33 L242.57,384.24 L242.79,385.15 L243.00,386.06 L243.21,386.97 L243.42,387.87" fill="none" stroke="#ff0000" stroke-width="1.12"/></g>
<g transform="scale(1.280,1)"><path d="M101.22,67.45 L101.34,68.44 L101.46,69.43 L101.59,70.42 L101.72,71.41 L101.84,72.40 L101.97,73.38 L102.10,74.37 L102.23,75.36 L102.36,76.35 L102.49,77.34 L102.63,78.33 L102.76,79.32 L102.90,80.31 L103.03,81.30 L103.17,82.29 L103.31,83.27 L103.45,84.26 L103.59,85.25 L103.74,86.24 L103.88,87.23 L104.02,88.22 L104.17,89.20 L104.32,90.19 L104.47,91.18 L104.62,92.17 L104.77,93.15 L104.92,94.14 L105.08,95.13 L105.23,96.11 L105.39,97.10 L105.55,98.08 L105.71,99.07 L105.87,100.05 L106.04,101.04 L106.20,102.02 L106.37,103.00 L106.53,103.99 L106.70,104.97 L106.87,105.95 L107.05,106.93 L107.22,107.92 L107.40,108.90 L107.57,109.88 L107.75,110.86 L107.93,111.84 L108.12,112.82 L108.30,113.79 L108.48,114.77 L108.67,115.75 L108.86,116.73 L109.05,117.70 L109.24,118.68 L109.44,119.65 L109.63,120.63 L109.83,121.60 L110.03,122.57 L110.23,123.55 L110.44,124.52 L110.64,125.49 L110.85,126.46 L111.06,127.43 L111.27,128.40 L111.48,129.37 L111.70,130.33 L111.91,131.30 L112.13,132.27 L112.35,133.23 L112.57,134.20 L112.80,135.16 L113.03,136.12 L113.25,137.08 L113.48,138.04 L113.72,139.00 L113.95,139.96 L114.19,140.92 L114.43,141.88 L114.67,142.84 L114.91,143.79 L115.16,144.75 L115.41,145.70 L115.66,146.65 L115.91,147.60 L116.17,148.55 L116.42,149.50 L116.68,150.45 L116.94,151.40 L117.21,152.35 L117.47,153.29 L117.74,154.24 L118.01,155.18 L118.29,156.12 L118.56,157.06 L118.84,158.00 L119.12,158.94 L119.40,159.88 L119.69,160.81 L119.98,161.75 L120.27,162.68 L120.56,163.61 L120.85,164.55 L121.15,165.48 L121.45,166.41 L121.76,167.33 L122.06,168.26 L122.37,169.18 L122.68,170.11 L122.99,171.03 L123.31,171.95 L123.63,172.87 L123.95,173.79 L124.27,174.71 L124.60,175.62 L124.93,176.54 L125.26,177.45 L125.60,178.36 L125.94,179.27 L126.28,180.18 L126.62,181.08 L126.97,181.99 L127.31,182.89 L127.67,183.80 L128.02,184.70 L128.38,185.60 L128.74,186.49 L129.10,187.39 L129.47,188.28 L129.84,189.17 L130.21,190.06 L130.58,190.95 L130.96,191.84 L131.34,192.72 L131.73,193.61 L132.11,194.49 L132.50,195.36 L132.89,196.24 L133.29,197.11 L133.69,197.98 L134.09,198.85 L134.49,199.72 L134.90,200.58 L135.31,201.44 L135.72,202.30 L136.14,203.16 L136.56,204.01 L136.98,204.87 L137.41,205.71 L137.84,206.56 L138.27,207.40 L138.70,208.24 L139.14,209.08 L139.58,209.92 L140.02,210.75 L140.47,211.58 L140.92,212.40 L141.37,213.23 L141.83,214.05 L142.29,214.86 L142.75,215.68 L143.21,216.49 L143.68,217.29 L144.15,218.10 L144.63,218.90 L145.11,219.69 L145.59,220.49 L146.07,221.28 L146.56,222.06 L147.05,222.85 L147.54,223.63 L148.04,224.40 L148.54,225.17 L149.04,225.94 L149.55,226.71 L150.06,227.47 L150.57,228.22 L151.09,228.97 L151.61,229.72 L152.13,230.47 L152.66,231.21 L153.19,231.95 L153.72,232.68 L154.26,233.41 L154.80,234.13 L155.34,234.85 L155.88,235.56 L156.43,236.28 L156.99,236.98 L157.54,237.68 L158.10,238.38 L158.66,239.07 L159.23,239.76 L159.80,240.45 L160.37,241.13 L160.95,241.80 L161.53,242.47 L162.11,243.14 L162.70,243.80 L163.29,244.45 L163.88,245.10 L164.48,245.75 L165.08,246.39 L165.68,247.02 L166.29,247.65 L166.90,248.28 L167.51,248.90 L168.13,249.51 L168.75,250.12 L169.38,250.73 L170.00,251.32 L170.63,251.92 L171.27,252.51 L171.91,253.09 L172.55,253.66 L173.20,254.24 L173.84,254.80 L174.50,255.36 L175.15,255.92 L175.81,256.46 L176.48,257.01 L177.14,257.54 L177.81,258.07 L178.49,258.60 L179.17,259.12 L179.85,259.63 L180.53,260.14 L181.22,260.65 L181.90,261.15 L182.59,261.66 L183.28,262.16 L183.97,262.66 L184.66,263.17 L185.35,263.67 L186.03,264.18 L186.72,264.69 L187.40,265.21 L188.08,265.73 L188.76,266.26 L189.43,266.80 L190.10,267.35 L190.77,267.90 L191.42,268.47 L192.08,269.04 L192.73,269.63 L193.37,270.23 L194.00,270.84 L194.63,271.47 L195.25,272.11 L195.86,272.77 L196.47,273.43 L197.07,274.11 L197.66,274.79 L198.26,275.47 L198.85,276.16 L199.44,276.85 L200.03,277.55 L200.62,278.23 L201.21,278.92 L201.80,279.60 L202.39,280.27 L202.98,280.93 L203.58,281.58 L204.19,282.22 L204.80,282.84 L205.41,283.45 L206.04,284.03 L206.67,284.60 L207.31,285.15 L207.96,285.67 L208.62,286.16 L209.29,286.63 L209.97,287.07 L210.67,287.48 L211.38,287.85 L212.10,288.20 L212.83,288.52 L213.57,288.81 L214.33,289.08 L215.09,289.33 L215.86,289.55 L216.63,289.77 L217.41,289.96 L218.20,290.15 L218.99,290.32 L219.78,290.48 L220.58,290.64 L221.38,290.80 L222.17,290.95 L222.97,291.11 L223.76,291.28 L224.54,291.46 L225.32,291.67 L226.09,291.90 L226.85,292.17 L227.59,292.47 L228.32,292.81 L229.04,293.18 L229.73,293.60 L230.42,294.04 L231.08,294.52 L231.72,295.03 L232.34,295.57 L232.94,296.14 L233.52,296.73 L234.08,297.35 L234.63,297.99 L235.15,298.66 L235.65,299.35 L236.14,300.07 L236.61,300.80 L237.07,301.56 L237.51,302.34 L237.93,303.14 L238.34,303.95 L238.74,304.79 L239.12,305.64 L239.49,306.50 L239.84,307.38 L240.19,308.28 L240.52,309.19 L240.85,310.11 L241.16,311.04 L241.46,311.99 L241.76,312.94 L242.05,313.91 L242.32,314.88 L242.60,315.86 L242.86,316.85 L243.12,317.84 L243.37,318.84 L243.62,319.84 L243.87,320.85 L244.11,321.86 L244.35,322.87 L244.58,323.88 L244.81,324.89 L245.05,325.90 L245.28,326.91 L245.51,327.91 L245.74,328.92 L245.97,329.92 L246.20,330.91 L246.44,331.90 L246.67,332.88 L246.91,333.86 L247.15,334.84 L247.39,335.81 L247.63,336.77 L247.87,337.74 L248.11,338.70 L248.35,339.65 L248.59,340.61 L248.84,341.56 L249.08,342.50 L249.32,343.45 L249.56,344.39 L249.81,345.33 L250.05,346.27 L250.29,347.21 L250.53,348.14 L250.77,349.08 L251.01,350.01 L251.25,350.94 L251.49,351.88 L251.73,352.81 L251.97,353.74 L252.20,354.67 L252.44,355.60 L252.67,356.53 L252.90,357.47 L253.13,358.40 L253.36,359.33 L253.58,360.27 L253.80,361.21 L254.03,362.14 L254.24,363.09 L254.46,364.03 L254.68,364.97 L254.89,365.92 L255.10,366.87 L255.30,367.82 L255.50,368.78 L255.70,369.74 L255.90,370.70 L256.09,371.67 L256.28,372.64 L256.47,373.62 L256.65,374.60 L256.83,375.58 L257.01,376.57 L257.18,377.57 L257.34,378.56 L257.51,379.57 L257.67,380.58 L257.82,381.60 L257.97,382.62 L258.12,383.65 L258.26,384.68 L258.39,385.73 L258.52,386.77 L258.65,387.83" fill="none" stroke="#ff0000" stroke-width="2.20"/></g>
<path d="M271.60,182.60 H294.90" fill="none" stroke="#ff0000" stroke-width="2.20"/>
<path d="M271.60,194.60 H294.90" fill="none" stroke="#ff0000" stroke-width="1.15"/>
<path d="M271.60,206.60 H293.40" fill="none" stroke="#ff0000" stroke-width="1.20" stroke-dasharray="4.9 2.6"/>
<path d="M271.60,218.60 H294.90" fill="none" stroke="#ff0000" stroke-width="1.20" stroke-dasharray="1.3 2.8"/>
<path d="M271.60,230.40 H294.90" fill="none" stroke="#ff0000" stroke-width="1.20" stroke-dasharray="10 5.4 2.4 5.6"/>
<path d="M271.60,242.40 H294.90" fill="none" stroke="#ff0000" stroke-width="1.20" stroke-dasharray="10 4.7"/>
</g>
<text x="102.50" y="411.00" font-family="'Liberation Serif', serif" font-size="13.40" font-weight="normal" font-style="normal" fill="#0000ff" text-anchor="start" textLength="21.00" lengthAdjust="spacingAndGlyphs" stroke="#0000ff" stroke-width="0.30" stroke-linejoin="round">0.0</text>
<text x="152.80" y="411.00" font-family="'Liberation Serif', serif" font-size="13.40" font-weight="normal" font-style="normal" fill="#0000ff" text-anchor="start" textLength="21.00" lengthAdjust="spacingAndGlyphs" stroke="#0000ff" stroke-width="0.30" stroke-linejoin="round">0.2</text>
<text x="202.80" y="411.00" font-family="'Liberation Serif', serif" font-size="13.40" font-weight="normal" font-style="normal" fill="#0000ff" text-anchor="start" textLength="21.30" lengthAdjust="spacingAndGlyphs" stroke="#0000ff" stroke-width="0.30" stroke-linejoin="round">0.4</text>
<text x="253.40" y="411.00" font-family="'Liberation Serif', serif" font-size="13.40" font-weight="normal" font-style="normal" fill="#0000ff" text-anchor="start" textLength="21.10" lengthAdjust="spacingAndGlyphs" stroke="#0000ff" stroke-width="0.30" stroke-linejoin="round">0.6</text>
<text x="303.90" y="411.00" font-family="'Liberation Serif', serif" font-size="13.40" font-weight="normal" font-style="normal" fill="#0000ff" text-anchor="start" textLength="21.30" lengthAdjust="spacingAndGlyphs" stroke="#0000ff" stroke-width="0.30" stroke-linejoin="round">0.8</text>
<text x="355.70" y="411.00" font-family="'Liberation Serif', serif" font-size="13.40" font-weight="normal" font-style="normal" fill="#0000ff" text-anchor="start" textLength="19.60" lengthAdjust="spacingAndGlyphs" stroke="#0000ff" stroke-width="0.30" stroke-linejoin="round">1.0</text>
<text x="71.40" y="392.05" font-family="'Liberation Serif', serif" font-size="14.00" font-weight="normal" font-style="normal" fill="#0000ff" text-anchor="start" textLength="15.80" lengthAdjust="spacingAndGlyphs" stroke="#0000ff" stroke-width="0.30" stroke-linejoin="round">10</text>
<text x="87.40" y="384.35" font-family="'Liberation Serif', serif" font-size="8.20" font-weight="bold" font-style="normal" fill="#0000ff" text-anchor="start" textLength="11.80" lengthAdjust="spacingAndGlyphs" stroke="#0000ff" stroke-width="0.15" stroke-linejoin="round">−8</text>
<text x="71.40" y="312.14" font-family="'Liberation Serif', serif" font-size="14.00" font-weight="normal" font-style="normal" fill="#0000ff" text-anchor="start" textLength="15.80" lengthAdjust="spacingAndGlyphs" stroke="#0000ff" stroke-width="0.30" stroke-linejoin="round">10</text>
<text x="87.40" y="304.44" font-family="'Liberation Serif', serif" font-size="8.20" font-weight="bold" font-style="normal" fill="#0000ff" text-anchor="start" textLength="11.80" lengthAdjust="spacingAndGlyphs" stroke="#0000ff" stroke-width="0.15" stroke-linejoin="round">−7</text>
<text x="71.40" y="232.22" font-family="'Liberation Serif', serif" font-size="14.00" font-weight="normal" font-style="normal" fill="#0000ff" text-anchor="start" textLength="15.80" lengthAdjust="spacingAndGlyphs" stroke="#0000ff" stroke-width="0.30" stroke-linejoin="round">10</text>
<text x="87.40" y="224.53" font-family="'Liberation Serif', serif" font-size="8.20" font-weight="bold" font-style="normal" fill="#0000ff" text-anchor="start" textLength="11.80" lengthAdjust="spacingAndGlyphs" stroke="#0000ff" stroke-width="0.15" stroke-linejoin="round">−6</text>
<text x="71.40" y="152.31" font-family="'Liberation Serif', serif" font-size="14.00" font-weight="normal" font-style="normal" fill="#0000ff" text-anchor="start" textLength="15.80" lengthAdjust="spacingAndGlyphs" stroke="#0000ff" stroke-width="0.30" stroke-linejoin="round">10</text>
<text x="87.40" y="144.61" font-family="'Liberation Serif', serif" font-size="8.20" font-weight="bold" font-style="normal" fill="#0000ff" text-anchor="start" textLength="11.80" lengthAdjust="spacingAndGlyphs" stroke="#0000ff" stroke-width="0.15" stroke-linejoin="round">−5</text>
<text x="71.40" y="72.40" font-family="'Liberation Serif', serif" font-size="14.00" font-weight="normal" font-style="normal" fill="#0000ff" text-anchor="start" textLength="15.80" lengthAdjust="spacingAndGlyphs" stroke="#0000ff" stroke-width="0.30" stroke-linejoin="round">10</text>
<text x="87.40" y="64.70" font-family="'Liberation Serif', serif" font-size="8.20" font-weight="bold" font-style="normal" fill="#0000ff" text-anchor="start" textLength="11.80" lengthAdjust="spacingAndGlyphs" stroke="#0000ff" stroke-width="0.15" stroke-linejoin="round">−4</text>
<text x="202.00" y="441.00" font-family="'Liberation Serif', serif" font-size="15.20" font-weight="normal" font-style="normal" fill="#0000ff" text-anchor="start" textLength="11.00" lengthAdjust="spacingAndGlyphs" stroke="#0000ff" stroke-width="0.25" stroke-linejoin="round">M</text>
<text x="226.20" y="441.00" font-family="'Liberation Serif', serif" font-size="15.20" font-weight="normal" font-style="normal" fill="#0000ff" text-anchor="start" textLength="5.60" lengthAdjust="spacingAndGlyphs" stroke="#0000ff" stroke-width="0.25" stroke-linejoin="round">(</text>
<text x="233.70" y="441.00" font-family="'Liberation Serif', serif" font-size="15.20" font-weight="normal" font-style="normal" fill="#0000ff" text-anchor="start" textLength="11.10" lengthAdjust="spacingAndGlyphs" stroke="#0000ff" stroke-width="0.25" stroke-linejoin="round">G</text>
<text x="245.60" y="441.00" font-family="'Liberation Serif', serif" font-size="15.20" font-weight="normal" font-style="normal" fill="#0000ff" text-anchor="start" textLength="8.90" lengthAdjust="spacingAndGlyphs" stroke="#0000ff" stroke-width="0.25" stroke-linejoin="round">e</text>
<text x="254.20" y="441.00" font-family="'Liberation Serif', serif" font-size="15.20" font-weight="normal" font-style="normal" fill="#0000ff" text-anchor="start" textLength="12.50" lengthAdjust="spacingAndGlyphs" stroke="#0000ff" stroke-width="0.25" stroke-linejoin="round">V</text>
<text x="269.30" y="441.00" font-family="'Liberation Serif', serif" font-size="15.20" font-weight="normal" font-style="normal" fill="#0000ff" text-anchor="start" textLength="5.60" lengthAdjust="spacingAndGlyphs" stroke="#0000ff" stroke-width="0.25" stroke-linejoin="round">)</text>
<text x="226.40" y="111.00" font-family="'Liberation Serif', serif" font-size="14.20" font-weight="normal" font-style="normal" fill="#0000ff" text-anchor="start" textLength="9.00" lengthAdjust="spacingAndGlyphs" stroke="#0000ff" stroke-width="0.50" stroke-linejoin="round">T</text>
<text x="244.80" y="111.00" font-family="'Liberation Serif', serif" font-size="14.20" font-weight="normal" font-style="normal" fill="#0000ff" text-anchor="start" textLength="9.60" lengthAdjust="spacingAndGlyphs" stroke="#0000ff" stroke-width="0.50" stroke-linejoin="round">=</text>
<text x="264.00" y="111.00" font-family="'Liberation Serif', serif" font-size="14.00" font-weight="normal" font-style="normal" fill="#0000ff" text-anchor="start" textLength="23.40" lengthAdjust="spacingAndGlyphs" stroke="#0000ff" stroke-width="0.50" stroke-linejoin="round">150</text>
<text x="297.60" y="111.00" font-family="'Liberation Serif', serif" font-size="14.20" font-weight="normal" font-style="normal" fill="#0000ff" text-anchor="start" textLength="28.80" lengthAdjust="spacingAndGlyphs" stroke="#0000ff" stroke-width="0.50" stroke-linejoin="round">MeV</text>
<text x="232.00" y="129.80" font-family="'Liberation Serif', serif" font-size="15.00" font-weight="bold" font-style="italic" fill="#0000ff" text-anchor="start" textLength="9.60" lengthAdjust="spacingAndGlyphs">ρ</text>
<text x="240.90" y="135.40" font-family="'Liberation Serif', serif" font-size="9.50" font-weight="bold" font-style="normal" fill="#0000ff" text-anchor="start" textLength="6.20" lengthAdjust="spacingAndGlyphs">B</text>
<text x="254.60" y="131.00" font-family="'Liberation Serif', serif" font-size="14.20" font-weight="normal" font-style="normal" fill="#0000ff" text-anchor="start" textLength="10.60" lengthAdjust="spacingAndGlyphs" stroke="#0000ff" stroke-width="0.50" stroke-linejoin="round">=</text>
<text x="282.00" y="129.80" font-family="'Liberation Serif', serif" font-size="15.00" font-weight="bold" font-style="italic" fill="#0000ff" text-anchor="start" textLength="9.60" lengthAdjust="spacingAndGlyphs">ρ</text>
<text x="291.30" y="135.40" font-family="'Liberation Serif', serif" font-size="9.50" font-weight="bold" font-style="normal" fill="#0000ff" text-anchor="start" textLength="5.40" lengthAdjust="spacingAndGlyphs">0</text>
<text x="300.40" y="186.70" font-family="'Liberation Serif', serif" font-size="10.20" font-weight="normal" font-style="normal" fill="#ff0000" text-anchor="start" textLength="24.90" lengthAdjust="spacingAndGlyphs" stroke="#ff0000" stroke-width="0.45" stroke-linejoin="round">Sum</text>
<text x="300.30" y="198.70" font-family="'Liberation Serif', serif" font-size="10.20" font-weight="normal" font-style="normal" fill="#ff0000" text-anchor="start" textLength="8.80" lengthAdjust="spacingAndGlyphs" stroke="#ff0000" stroke-width="0.45" stroke-linejoin="round">N</text>
<text x="308.80" y="195.70" font-family="'Liberation Serif', serif" font-size="7.00" font-weight="bold" font-style="normal" fill="#ff0000" text-anchor="start" textLength="2.80" lengthAdjust="spacingAndGlyphs">*</text>
<text x="312.00" y="198.70" font-family="'Liberation Serif', serif" font-size="10.20" font-weight="normal" font-style="normal" fill="#ff0000" text-anchor="start" textLength="34.50" lengthAdjust="spacingAndGlyphs" stroke="#ff0000" stroke-width="0.45" stroke-linejoin="round">(1520)</text>
<text x="300.30" y="210.50" font-family="'Liberation Serif', serif" font-size="10.20" font-weight="normal" font-style="normal" fill="#ff0000" text-anchor="start" textLength="8.80" lengthAdjust="spacingAndGlyphs" stroke="#ff0000" stroke-width="0.45" stroke-linejoin="round">N</text>
<text x="308.80" y="207.50" font-family="'Liberation Serif', serif" font-size="7.00" font-weight="bold" font-style="normal" fill="#ff0000" text-anchor="start" textLength="2.80" lengthAdjust="spacingAndGlyphs">*</text>
<text x="312.00" y="210.50" font-family="'Liberation Serif', serif" font-size="10.20" font-weight="normal" font-style="normal" fill="#ff0000" text-anchor="start" textLength="34.50" lengthAdjust="spacingAndGlyphs" stroke="#ff0000" stroke-width="0.45" stroke-linejoin="round">(1720)</text>
<text x="300.40" y="222.10" font-family="'Liberation Serif', serif" font-size="10.20" font-weight="normal" font-style="normal" fill="#ff0000" text-anchor="start" textLength="6.20" lengthAdjust="spacingAndGlyphs" stroke="#ff0000" stroke-width="0.45" stroke-linejoin="round">Δ</text>
<text x="307.90" y="222.10" font-family="'Liberation Serif', serif" font-size="10.20" font-weight="normal" font-style="normal" fill="#ff0000" text-anchor="start" textLength="34.00" lengthAdjust="spacingAndGlyphs" stroke="#ff0000" stroke-width="0.45" stroke-linejoin="round">(1905)</text>
<text x="300.40" y="234.00" font-family="'Liberation Serif', serif" font-size="10.20" font-weight="normal" font-style="normal" fill="#ff0000" text-anchor="start" textLength="6.20" lengthAdjust="spacingAndGlyphs" stroke="#ff0000" stroke-width="0.45" stroke-linejoin="round">Δ</text>
<text x="307.90" y="234.00" font-family="'Liberation Serif', serif" font-size="10.20" font-weight="normal" font-style="normal" fill="#ff0000" text-anchor="start" textLength="34.00" lengthAdjust="spacingAndGlyphs" stroke="#ff0000" stroke-width="0.45" stroke-linejoin="round">(1700)</text>
<text x="300.40" y="245.90" font-family="'Liberation Serif', serif" font-size="10.20" font-weight="normal" font-style="normal" fill="#ff0000" text-anchor="start" textLength="6.20" lengthAdjust="spacingAndGlyphs" stroke="#ff0000" stroke-width="0.45" stroke-linejoin="round">Δ</text>
<text x="307.90" y="245.90" font-family="'Liberation Serif', serif" font-size="10.20" font-weight="normal" font-style="normal" fill="#ff0000" text-anchor="start" textLength="34.00" lengthAdjust="spacingAndGlyphs" stroke="#ff0000" stroke-width="0.45" stroke-linejoin="round">(1620)</text>
<line x1="46.2" y1="285.2" x2="63.6" y2="294.5" stroke="#0000ff" stroke-width="1.15"/><g transform="translate(60.3,318) rotate(-90) scale(1,1.300)"><text x="0.20" y="0.00" font-family="'Liberation Serif', serif" font-size="15.20" fill="#0000ff" stroke="#0000ff" stroke-width="0.25" textLength="22.20" lengthAdjust="spacingAndGlyphs">dR</text>
<text x="34.20" y="0.00" font-family="'Liberation Serif', serif" font-size="15.20" fill="#0000ff" stroke="#0000ff" stroke-width="0.25" textLength="22.80" lengthAdjust="spacingAndGlyphs">dM</text>
<text x="58.30" y="-5.00" font-family="'Liberation Serif', serif" font-size="9.00" fill="#0000ff" stroke="#0000ff" stroke-width="0.25" textLength="5.20" lengthAdjust="spacingAndGlyphs">2</text>
<text x="73.80" y="0.00" font-family="'Liberation Serif', serif" font-size="15.20" fill="#0000ff" stroke="#0000ff" stroke-width="0.25" textLength="6.60" lengthAdjust="spacingAndGlyphs">(</text>
<text x="81.00" y="0.00" font-family="'Liberation Serif', serif" font-size="15.20" fill="#0000ff" stroke="#0000ff" stroke-width="0.25" textLength="30.80" lengthAdjust="spacingAndGlyphs">GeV</text>
<text x="112.50" y="-5.00" font-family="'Liberation Serif', serif" font-size="9.00" fill="#0000ff" stroke="#0000ff" stroke-width="0.25" textLength="12.80" lengthAdjust="spacingAndGlyphs">−2</text>
<text x="125.00" y="0.00" font-family="'Liberation Serif', serif" font-size="15.20" fill="#0000ff" stroke="#0000ff" stroke-width="0.25" textLength="23.00" lengthAdjust="spacingAndGlyphs">fm</text>
<text x="150.50" y="-5.00" font-family="'Liberation Serif', serif" font-size="9.00" fill="#0000ff" stroke="#0000ff" stroke-width="0.25" textLength="12.50" lengthAdjust="spacingAndGlyphs">−4</text>
<text x="164.00" y="0.00" font-family="'Liberation Serif', serif" font-size="15.20" fill="#0000ff" stroke="#0000ff" stroke-width="0.25" textLength="5.40" lengthAdjust="spacingAndGlyphs">)</text></g>
</svg>
</body></html>
